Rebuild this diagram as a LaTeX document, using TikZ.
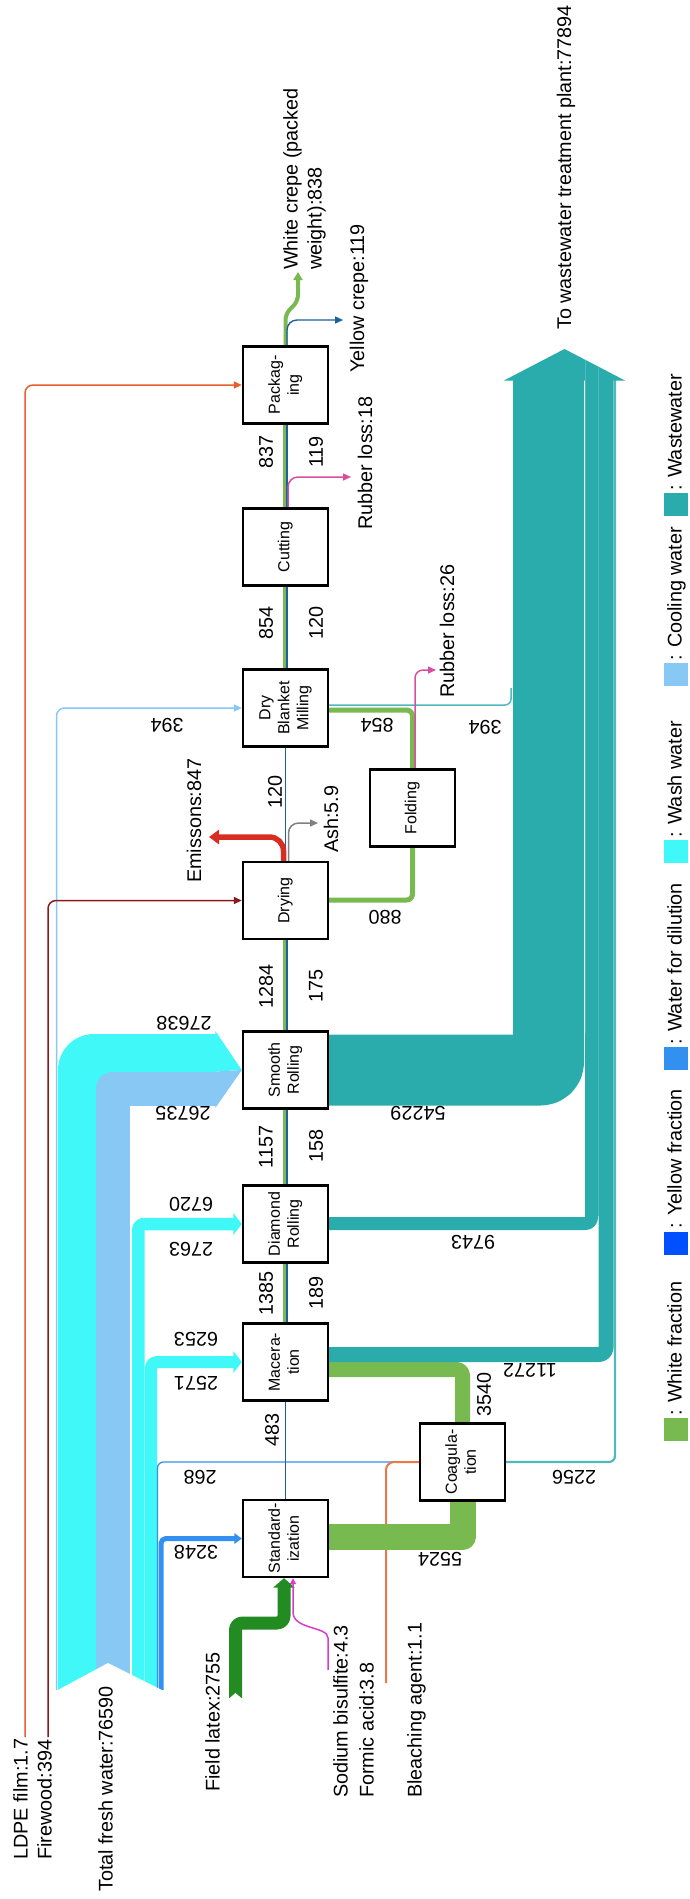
\documentclass[tikz,border=0pt]{standalone}
\usepackage{fontspec}
\setmainfont{Liberation Sans}
\usepackage{graphicx}
\usetikzlibrary{arrows.meta,backgrounds}

\definecolor{whitefrac}{RGB}{120,185,80}
\definecolor{yellowfrac}{RGB}{0,80,255}
\definecolor{yellowline}{RGB}{30,95,160}
\definecolor{dilution}{RGB}{50,145,240}
\definecolor{washwater}{RGB}{64,248,248}
\definecolor{coolwater}{RGB}{135,200,245}
\definecolor{wastewater}{RGB}{43,172,172}
\definecolor{wwthin}{RGB}{80,185,192}
\definecolor{latexgreen}{RGB}{34,139,34}
\definecolor{emisred}{RGB}{215,45,35}
\definecolor{ldpeorange}{RGB}{230,95,45}
\definecolor{bleachorange}{RGB}{235,120,70}
\definecolor{firewoodred}{RGB}{139,26,26}
\definecolor{chemmagenta}{RGB}{215,60,205}
\definecolor{losspink}{RGB}{215,80,160}
\definecolor{ashgray}{RGB}{128,128,128}

\newcommand\lblfont{\fontsize{19.8}{24}\selectfont}
\newcommand\boxfont{\fontsize{16}{19}\selectfont}
\newcommand\boxlbl[1]{\rotatebox{90}{\begin{tabular}{@{}c@{}}#1\end{tabular}}}

\tikzset{
  procbox/.style={draw, line width=2.4pt, fill=white, minimum width=85pt, minimum height=77pt, inner sep=0pt, font=\boxfont},
  vnum/.style={rotate=90, font=\lblfont, inner sep=0pt},
  hnum/.style={rotate=180, font=\lblfont, inner sep=0pt},
  endlbl/.style={rotate=90, anchor=base west, font=\lblfont, inner sep=0pt},
  band/.style={line join=round, line cap=butt},
  wline/.style={whitefrac, line width=4pt},
  yline/.style={yellowline, line width=1.4pt},
  thinflow/.style={line width=1.5pt, rounded corners=8pt, -{Triangle[length=8pt,width=7pt]}},
}

\begin{document}
\begin{tikzpicture}[x=1pt,y=-1pt]
\useasboundingbox (0,0) rectangle (690,1899);
% process boxes, bottom to top
\node[procbox] (std) at (285.5,1538.5) {\boxlbl{Standard-\\ization}};
\node[procbox] (mac) at (285.5,1362) {\boxlbl{Macera-\\tion}};
\node[procbox] (dia) at (285.5,1224) {\boxlbl{Diamond\\Rolling}};
\node[procbox] (smo) at (285.5,1070) {\boxlbl{Smooth\\Rolling}};
\node[procbox] (dry) at (285.5,900.5) {\boxlbl{Drying}};
\node[procbox] (dbm) at (285.5,708) {\boxlbl{Dry\\Blanket\\Milling}};
\node[procbox] (cut) at (285.5,547) {\boxlbl{Cutting}};
\node[procbox] (pac) at (285.5,385) {\boxlbl{Packag-\\ing}};
\node[procbox] (fol) at (412.5,808) {\boxlbl{Folding}};
\node[procbox] (coa) at (462.5,1462) {\boxlbl{Coagula-\\tion}};
% free ends
\coordinate (fwtail) at (108,1690);
\coordinate (ldpe) at (25,1737);
\coordinate (fwood) at (48,1737);
\coordinate (latex) at (235.5,1698);
\coordinate (chem) at (328,1670);
\coordinate (bleach) at (386,1683);
\coordinate (wwtop) at (564.5,380);
\coordinate (wwtip) at (564.5,349);
\coordinate (ww394) at (511,688);
\coordinate (emis) at (209,837);
\coordinate (ashend) at (318,823);
\coordinate (rl26) at (436,670);
\coordinate (rl18) at (351,477);
\coordinate (ycend) at (343,320);
\coordinate (wcend) at (298,272);

\begin{pgfonlayer}{background}
\fill[white] (0,0) rectangle (690,1899);
% Left: fresh water split over the wet steps
\draw[band, washwater, line width=72pt] ([xshift=-14pt]fwtail) |- ([xshift=-26pt]smo.west);
\draw[band, coolwater, line width=34.5pt] ([xshift=4.75pt]fwtail) |- ([xshift=-26pt,yshift=-18.75pt]smo.west);
\fill[washwater] ([xshift=-26.5pt,yshift=39pt]smo.west) -- (smo.west) -- ([xshift=-26.5pt,yshift=-1.5pt]smo.west) -- cycle;
\fill[coolwater] ([xshift=-26.5pt,yshift=-1.5pt]smo.west) -- (smo.west) -- ([xshift=-26.5pt,yshift=-38pt]smo.west) -- cycle;
\draw[band, washwater, line width=12.5pt, rounded corners=6pt] ([xshift=30.25pt]fwtail) |- ([xshift=-8pt]dia.west);
\fill[washwater] ([xshift=-8.5pt,yshift=11pt]dia.west) -- (dia.west) -- ([xshift=-8.5pt,yshift=-11pt]dia.west) -- cycle;
\draw[band, washwater, line width=12pt, rounded corners=6pt] ([xshift=43pt]fwtail) |- ([xshift=-8pt]mac.west);
\fill[washwater] ([xshift=-8.5pt,yshift=11pt]mac.west) -- (mac.west) -- ([xshift=-8.5pt,yshift=-11pt]mac.west) -- cycle;
\draw[band, dilution, line width=5pt, rounded corners=5pt] ([xshift=53pt]fwtail) |- ([xshift=-7pt]std.west);
\fill[dilution] ([xshift=-7.5pt,yshift=5.5pt]std.west) -- (std.west) -- ([xshift=-7.5pt,yshift=-5.5pt]std.west) -- cycle;
\draw[dilution, line width=1.3pt, rounded corners=6pt] ([xshift=49.5pt]fwtail) |- (coa.west);
\draw[coolwater, thinflow] ([xshift=-51.5pt]fwtail) |- (dbm.west);
\fill[white] ([xshift=-54pt,yshift=-2pt]fwtail) -- ([yshift=27pt]fwtail) -- ([xshift=58pt,yshift=-2pt]fwtail) -- cycle;
% fuel and film
\draw[firewoodred, thinflow] (fwood) |- (dry.west);
\draw[ldpeorange, thinflow] (ldpe) |- (pac.west);
% latex and chemicals in
\draw[band, latexgreen, line width=13pt, rounded corners=7pt] (latex) |- ([xshift=-1.5pt]std.south |- 0,1623) -- ([xshift=-1.5pt,yshift=-9pt]std.south);
\fill[latexgreen] ([xshift=-12.5pt,yshift=-9.5pt]std.south) -- ([xshift=-1.5pt]std.south) -- ([xshift=9.5pt,yshift=-9.5pt]std.south) -- cycle;
\fill[white] ([xshift=-7pt,yshift=-1pt]latex) -- ([yshift=5pt]latex) -- ([xshift=7pt,yshift=-1pt]latex) -- cycle;
\draw[chemmagenta, line width=1.5pt, -{Triangle[length=6pt,width=6pt]}] (chem) -- (328,1638) .. controls (328,1626) and (293,1630) .. (293,1612) -- ([xshift=7.5pt]std.south);
\draw[bleachorange, line width=2pt, rounded corners=8pt] (bleach) |- (coa.west);
% Right: white fraction round the coagulation tank
\draw[band, whitefrac, line width=26pt] (std.east |- 0,1537) -| (coa.south);
\draw[band, whitefrac, line width=15pt, rounded corners=6pt] (coa.north) |- (mac.east |- 0,1369.5);
% wastewater gathered to one outlet
\draw[band, wastewater, line width=71pt, rounded corners=8pt] (smo.east) -| (wwtop -| 548.5,0);
\draw[band, wastewater, line width=13pt, rounded corners=6pt] (dia.east |- 0,1223.5) -| (wwtop -| 591.5,0);
\draw[band, wastewater, line width=15pt, rounded corners=7pt] (mac.east |- 0,1354.5) -| (wwtop -| 606,0);
\draw[wwthin, line width=2.2pt, rounded corners=6pt] (coa.east) -| (wwtop -| 615,0);
\draw[wwthin, line width=1.5pt, rounded corners=6pt] ([yshift=3pt]dbm.east) -| (ww394);
\fill[wastewater] ([xshift=-60.5pt,yshift=-0.5pt]wwtop) -- (wwtip) -- ([xshift=60.5pt,yshift=-0.5pt]wwtop) -- cycle;
\draw[wwthin, line width=0.8pt] (585.5,360) -- (585.5,1034);
\draw[wwthin, line width=0.8pt] (598.5,367) -- (598.5,1216);
% main line
\draw[yline] (std.north) -- (mac.south);
\draw[wline] ([xshift=-0.5pt]mac.north) -- ([xshift=-0.5pt]dia.south);
\draw[yline] ([xshift=1.5pt]mac.north) -- ([xshift=1.5pt]dia.south);
\draw[wline] ([xshift=-0.5pt]dia.north) -- ([xshift=-0.5pt]smo.south);
\draw[yline] ([xshift=1.5pt]dia.north) -- ([xshift=1.5pt]smo.south);
\draw[wline] ([xshift=-0.5pt]smo.north) -- ([xshift=-0.5pt]dry.south);
\draw[yline] ([xshift=1.5pt]smo.north) -- ([xshift=1.5pt]dry.south);
\draw[yline] (dry.north) -- (dbm.south);
\draw[wline] ([xshift=-0.5pt]dbm.north) -- ([xshift=-0.5pt]cut.south);
\draw[yline] ([xshift=1.5pt]dbm.north) -- ([xshift=1.5pt]cut.south);
\draw[wline] ([xshift=-0.5pt]cut.north) -- ([xshift=-0.5pt]pac.south);
\draw[yline] ([xshift=1.5pt]cut.north) -- ([xshift=1.5pt]pac.south);
% drying, folding and losses
\draw[band, whitefrac, line width=5pt, rounded corners=6pt] ([yshift=0.5pt]dry.east) -| (fol.south);
\draw[band, whitefrac, line width=5pt, rounded corners=6pt] (fol.north) |- ([yshift=-2pt]dbm.east);
\draw[losspink, thinflow] ([xshift=2.5pt]fol.north) |- (rl26);
\draw[emisred, line width=5.5pt, rounded corners=14pt, -{Triangle[length=10pt,width=14pt]}] ([xshift=-2pt]dry.north) |- (emis);
\draw[ashgray, thinflow, rounded corners=10pt] ([xshift=3pt]dry.north) |- (ashend);
\draw[losspink, thinflow, rounded corners=10pt] ([xshift=2.5pt]cut.north) |- (rl18);
% products
\draw[wline, rounded corners=6pt, -{Triangle[length=8pt,width=9pt]}] (pac.north) -- (285.5,314) -- (298,301) -- (wcend);
\draw[yline, rounded corners=10pt, -{Triangle[length=8pt,width=7pt]}] ([xshift=1.5pt]pac.north) |- (ycend);
\end{pgfonlayer}

% flow values
\node[vnum] (v483) at (272,1430) {483};
\node[vnum] (v1385) at (266,1293) {1385};
\node[vnum] (v189) at (316,1293) {189};
\node[vnum] (v1157) at (266,1147) {1157};
\node[vnum] (v158) at (316,1146) {158};
\node[vnum] (v1284) at (266,986) {1284};
\node[vnum] (v175) at (316,986) {175};
\node[vnum] (v120a) at (275,792) {120};
\node[vnum] (v854a) at (266,623) {854};
\node[vnum] (v120b) at (316,623) {120};
\node[vnum] (v837) at (266,452) {837};
\node[vnum] (v119) at (316,452) {119};
\node[vnum] (v3540) at (484,1394) {3540};
\node[hnum] (h27638) at (184,1023) {27638};
\node[hnum] (h26735) at (183,1113) {26735};
\node[hnum] (h6720) at (191,1204) {6720};
\node[hnum] (h2763) at (191,1249) {2763};
\node[hnum] (h6253) at (196,1339) {6253};
\node[hnum] (h2571) at (196,1383) {2571};
\node[hnum] (h268) at (200,1477) {268};
\node[hnum] (h3248) at (196,1552) {3248};
\node[hnum] (h5524) at (440,1559) {5524};
\node[hnum] (h11272) at (530,1370) {11272};
\node[hnum] (h9743) at (473,1242) {9743};
\node[hnum] (h54229) at (418,1113) {54229};
\node[hnum] (h2256) at (574,1477) {2256};
\node[hnum] (h394a) at (167,725) {394};
\node[hnum] (h854b) at (377,725) {854};
\node[hnum] (h394b) at (485,727) {394};
\node[hnum] (h880) at (385,917) {880};
% inputs and outputs
\node[endlbl] (tLDPE) at (27.5,1860) {LDPE film:1.7};
\node[endlbl] (tFire) at (51.5,1860) {Firewood:394};
\node[endlbl] (tFresh) at (112.5,1892) {Total fresh water:76590};
\node[endlbl] (tLatex) at (219.5,1792) {Field latex:2755};
\node[endlbl] (tSodium) at (347.5,1798) {Sodium bisulfite:4.3};
\node[endlbl] (tFormic) at (373.5,1798) {Formic acid:3.8};
\node[endlbl] (tBleach) at (421.5,1798) {Bleaching agent:1.1};
\node[endlbl] (tEmis) at (201,883) {Emissons:847};
\node[endlbl] (tAsh) at (338,853) {Ash:5.9};
\node[endlbl] (tLoss26) at (454,698) {Rubber loss:26};
\node[endlbl] (tLoss18) at (372,530) {Rubber loss:18};
\node[endlbl] (tYellow) at (364,373) {Yellow crepe:119};
\node[endlbl, anchor=north west, align=left] (tWhite) at (283,270) {White crepe (packed\\weight):838};
\node[endlbl] (tWW) at (571,330) {To wastewater treatment plant:77894};
% legend
\fill[whitefrac] (664,1418) rectangle (688,1441);
\node[endlbl] (kWhite) at (681.5,1416) {: White fraction};
\fill[yellowfrac] (664,1232) rectangle (688,1255);
\node[endlbl] (kYellow) at (681.5,1229) {: Yellow fraction};
\fill[dilution] (664,1047) rectangle (688,1070);
\node[endlbl] (kDil) at (681.5,1045) {: Water for dilution};
\fill[washwater] (664,840) rectangle (688,863);
\node[endlbl] (kWash) at (681.5,838) {: Wash water};
\fill[coolwater] (664,663) rectangle (688,686);
\node[endlbl] (kCool) at (681.5,661) {: Cooling water};
\fill[wastewater] (664,493) rectangle (688,516);
\node[endlbl] (kWaste) at (681.5,491) {: Wastewater};
\end{tikzpicture}
\end{document}
